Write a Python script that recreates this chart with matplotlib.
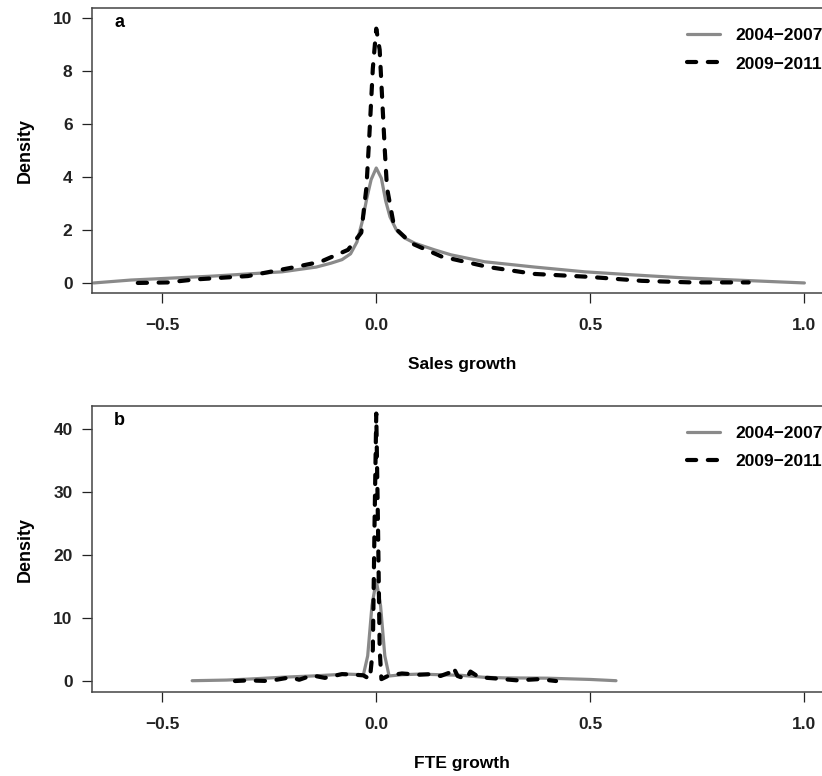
import matplotlib
matplotlib.use("Agg")
import matplotlib.pyplot as plt

# Data: kepadatan (density) pertumbuhan penjualan dan FTE
periode = ["2004\u22122007", "2009\u22122011"]

# Panel a: Sales growth
sales_x_0407 = [-0.66, -0.573, -0.38, -0.22, -0.14, -0.105, -0.08, -0.06, -0.045, -0.033,
                -0.022, -0.012, 0.0, 0.012, 0.022, 0.032, 0.047, 0.066, 0.09, 0.136,
                0.175, 0.253, 0.37, 0.487, 0.604, 0.72, 0.838, 1.0]
sales_y_0407 = [0.0, 0.11, 0.26, 0.42, 0.6, 0.75, 0.88, 1.1, 1.55, 2.3,
                3.2, 3.9, 4.34, 3.95, 3.1, 2.5, 2.0, 1.7, 1.5, 1.25,
                1.06, 0.8, 0.6, 0.42, 0.3, 0.19, 0.11, 0.0]

sales_x_0911 = [-0.557, -0.487, -0.425, -0.3, -0.19, -0.13, -0.066, -0.035, -0.023,
                -0.016, -0.008, 0.0, 0.008, 0.014, 0.02, 0.025, 0.042, 0.082, 0.152,
                0.262, 0.37, 0.497, 0.62, 0.737, 0.87]
sales_y_0911 = [0.0, 0.02, 0.13, 0.26, 0.6, 0.8, 1.25, 1.9, 3.6,
                5.6, 8.1, 9.6, 8.8, 6.9, 5.0, 3.6, 2.1, 1.5, 1.0,
                0.6, 0.34, 0.23, 0.08, 0.02, 0.02]

# Panel b: FTE growth
fte_x_0407 = [-0.43, -0.35, -0.3, -0.22, -0.15, -0.07, -0.03, -0.02, -0.01, 0.0,
              0.01, 0.02, 0.03, 0.06, 0.1, 0.15, 0.2, 0.25, 0.3, 0.4, 0.5, 0.56]
fte_y_0407 = [0.05, 0.15, 0.3, 0.6, 0.8, 1.1, 1.0, 4.0, 12.0, 16.0,
              12.0, 4.0, 0.8, 1.0, 1.1, 1.0, 0.9, 0.6, 0.5, 0.45, 0.25, 0.05]

fte_x_0911 = [-0.33, -0.3, -0.25, -0.2, -0.18, -0.15, -0.12, -0.08, -0.05, -0.03,
              -0.015, -0.008, -0.004, 0.0, 0.004, 0.008, 0.012, 0.03, 0.06, 0.1,
              0.13, 0.15, 0.17, 0.18, 0.19, 0.21, 0.22, 0.24, 0.28, 0.33, 0.38, 0.42]
fte_y_0911 = [0.0, 0.1, 0.0, 0.6, 0.2, 0.9, 0.5, 1.1, 1.0, 0.9,
              0.3, 5.0, 25.0, 42.5, 25.0, 5.0, 0.3, 0.9, 1.2, 1.0,
              1.1, 0.8, 1.3, 2.2, 0.8, 0.3, 1.5, 0.6, 0.4, 0.1, 0.3, 0.0]

x_ticks = [-0.5, 0.0, 0.5, 1.0]
x_labels = ["\u22120.5", "0.0", "0.5", "1.0"]

plt.rcParams['font.family'] = ['Liberation Sans', 'DejaVu Sans']
plt.rcParams['font.weight'] = 'bold'

fig = plt.figure(figsize=(8.22, 7.76), dpi=100)
ax_a = fig.add_axes([0.1119, 0.6224, 0.900, 0.3673])
ax_b = fig.add_axes([0.1119, 0.1082, 0.900, 0.3686])

panel = [
    (ax_a, "a", sales_x_0407, sales_y_0407, sales_x_0911, sales_y_0911,
     "Sales growth", [0, 2, 4, 6, 8, 10], (-0.38, 10.38), 0.9636),
    (ax_b, "b", fte_x_0407, fte_y_0407, fte_x_0911, fte_y_0911,
     "FTE growth", [0, 10, 20, 30, 40], (-1.75, 43.7), 0.4510),
]

for ax, huruf, x1, y1, x2, y2, xlabel, yticks, ylim, leg_y in panel:
    ax.plot(x1, y1, color='#8a8a8a', lw=2.3, solid_capstyle='round',
            solid_joinstyle='round', label=periode[0])
    ax.plot(x2, y2, color='black', lw=3.0, dashes=(2.2, 2.8),
            dash_capstyle='round', label=periode[1])
    ax.set_xlim(-0.664, 1.064)
    ax.set_ylim(*ylim)
    ax.set_xticks(x_ticks)
    ax.set_xticklabels(x_labels)
    ax.set_yticks(yticks)
    ax.tick_params(direction='out', length=7, width=0.9, labelsize=12.5,
                   colors='#222222')
    ax.tick_params(axis='x', pad=11)
    ax.tick_params(axis='y', pad=7)
    ax.set_xlabel(xlabel, fontsize=12.5, fontweight='bold', labelpad=17)
    ax.set_ylabel("Density", fontsize=13, fontweight='bold', labelpad=14)
    for s in ax.spines.values():
        s.set_color('#444444')
        s.set_linewidth(1.1)
    ax.text(0.03, 0.95, huruf, transform=ax.transAxes, fontsize=13,
            fontweight='bold', va='center', ha='left')
    ax.legend(loc='upper left', bbox_to_anchor=(0.836, leg_y),
              bbox_transform=fig.transFigure, frameon=False, fontsize=12.5,
              handlelength=1.9, handletextpad=0.9, labelspacing=0.75,
              borderaxespad=0, borderpad=0)

fig.savefig("out.png", dpi=100)
